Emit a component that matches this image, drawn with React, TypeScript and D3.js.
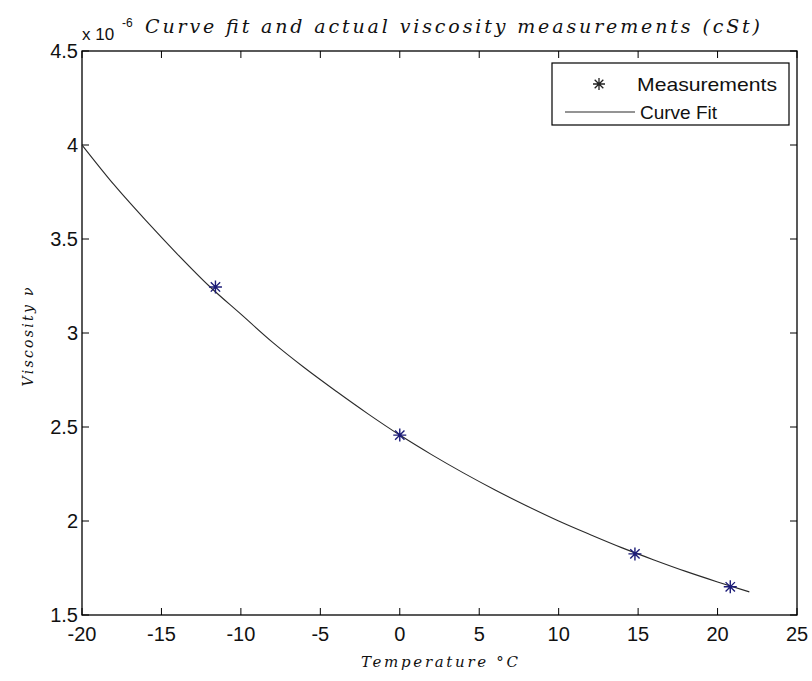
import React from 'react';
import * as d3 from 'd3';

// ---------------------------------------------------------------------------
// Data
// ---------------------------------------------------------------------------

const fitTemps = [-20, -18, -16, -14, -12, -10, -8, -6, -4, -2, 0, 2, 4, 6, 8, 10, 12, 14, 16, 18, 20, 22];
const fitVisc = [4.0, 3.79, 3.6, 3.42, 3.25, 3.1, 2.95, 2.815, 2.69, 2.57, 2.457, 2.353, 2.256, 2.165, 2.08, 2.0, 1.927, 1.857, 1.793, 1.732, 1.676, 1.623];

const measTemps = [-11.6, 0, 14.8, 20.8];
const measVisc = [3.245, 2.457, 1.825, 1.65];

const xTicks = [-20, -15, -10, -5, 0, 5, 10, 15, 20, 25];
const yTicks = [1.5, 2, 2.5, 3, 3.5, 4, 4.5];

const legendLabels = ['Measurements', 'Curve Fit'];

// ---------------------------------------------------------------------------
// Layout / style
// ---------------------------------------------------------------------------

const W = 812;
const H = 681;
const margin = { left: 82, top: 51, right: 15, bottom: 66 };
const TICK = 7;
const MARKER_COLOR = '#1c1c78';
const LINE_COLOR = '#2a2a2a';
const SANS = '"Liberation Sans", Arial, sans-serif';
const SERIF = '"DejaVu Serif", "Liberation Serif", serif';

function star(cx: number, cy: number, r: number) {
  const d = r * 0.72;
  return `M${cx - r},${cy}H${cx + r}M${cx},${cy - r}V${cy + r}` +
    `M${cx - d},${cy - d}L${cx + d},${cy + d}M${cx - d},${cy + d}L${cx + d},${cy - d}`;
}

export default function App() {
  const x0 = margin.left;
  const x1 = W - margin.right;
  const y0 = margin.top;
  const y1 = H - margin.bottom;

  const xScale = d3.scaleLinear().domain([-20, 25]).range([x0, x1]);
  const yScale = d3.scaleLinear().domain([1.5, 4.5]).range([y1, y0]);

  const line = d3.line<number>()
    .x((_d, i) => xScale(fitTemps[i]))
    .y((d) => yScale(d))
    .curve(d3.curveMonotoneX);

  const legend = { x: 552, y: 63, w: 237, h: 62 };

  return (
    <svg
      width={W}
      height={H}
      style={{ position: 'absolute', left: 0, top: 0, background: '#fff' }}
    >
      {/* Title */}
      <text
        x={145}
        y={33}
        fontFamily={SERIF}
        fontStyle="italic"
        fontSize={19}
        textLength={615}
        lengthAdjust="spacing"
        fill="#111"
      >
        Curve fit and actual viscosity measurements (cSt)
      </text>

      {/* Exponent label */}
      <text x={82} y={40} fontFamily={SANS} fontSize={17} fill="#111">x 10</text>
      <text x={122} y={27} fontFamily={SANS} fontSize={12} fill="#111">-6</text>

      {/* Axes box */}
      <rect x={x0} y={y0} width={x1 - x0} height={y1 - y0} fill="none" stroke="#000" strokeWidth={1.3} />

      {/* X ticks */}
      {xTicks.map((t) => (
        <g key={`xt${t}`}>
          <line x1={xScale(t)} x2={xScale(t)} y1={y1} y2={y1 - TICK} stroke="#000" />
          <line x1={xScale(t)} x2={xScale(t)} y1={y0} y2={y0 + TICK} stroke="#000" />
          <text
            x={xScale(t)}
            y={641}
            textAnchor="middle"
            fontFamily={SANS}
            fontSize={20}
            fill="#111"
          >
            {t}
          </text>
        </g>
      ))}

      {/* Y ticks */}
      {yTicks.map((t) => (
        <g key={`yt${t}`}>
          <line x1={x0} x2={x0 + TICK} y1={yScale(t)} y2={yScale(t)} stroke="#000" />
          <line x1={x1} x2={x1 - TICK} y1={yScale(t)} y2={yScale(t)} stroke="#000" />
          <text
            x={78}
            y={yScale(t)}
            dy="0.36em"
            textAnchor="end"
            fontFamily={SANS}
            fontSize={20}
            fill="#111"
          >
            {String(t)}
          </text>
        </g>
      ))}

      {/* Axis labels */}
      <text
        x={(x0 + x1) / 2}
        y={667}
        textAnchor="middle"
        fontFamily={SERIF}
        fontStyle="italic"
        fontSize={15}
        textLength={157}
        lengthAdjust="spacing"
        fill="#111"
      >
        Temperature °C
      </text>
      <text
        transform={`translate(33,337) rotate(-90)`}
        textAnchor="middle"
        fontFamily={SERIF}
        fontStyle="italic"
        fontSize={14}
        textLength={99}
        lengthAdjust="spacing"
        fill="#111"
      >
        Viscosity ν
      </text>

      {/* Curve fit */}
      <path d={line(fitVisc) ?? ''} fill="none" stroke={LINE_COLOR} strokeWidth={1.1} />

      {/* Measurements */}
      {measTemps.map((t, i) => (
        <path
          key={`m${i}`}
          d={star(xScale(t), yScale(measVisc[i]), 6.5)}
          stroke={MARKER_COLOR}
          strokeWidth={1.4}
          fill="none"
        />
      ))}

      {/* Legend */}
      <rect x={legend.x} y={legend.y} width={legend.w} height={legend.h} fill="#fff" stroke="#000" strokeWidth={1.2} />
      <path d={star(599, 84, 6)} stroke="#222" strokeWidth={1.3} fill="none" />
      <text x={637} y={84} dy="0.36em" fontFamily={SANS} fontSize={19} textLength={140} lengthAdjust="spacingAndGlyphs" fill="#111">
        {legendLabels[0]}
      </text>
      <line x1={565} x2={635} y1={112} y2={112} stroke={LINE_COLOR} strokeWidth={1.1} />
      <text x={640} y={112} dy="0.36em" fontFamily={SANS} fontSize={19} fill="#111">
        {legendLabels[1]}
      </text>
    </svg>
  );
}
